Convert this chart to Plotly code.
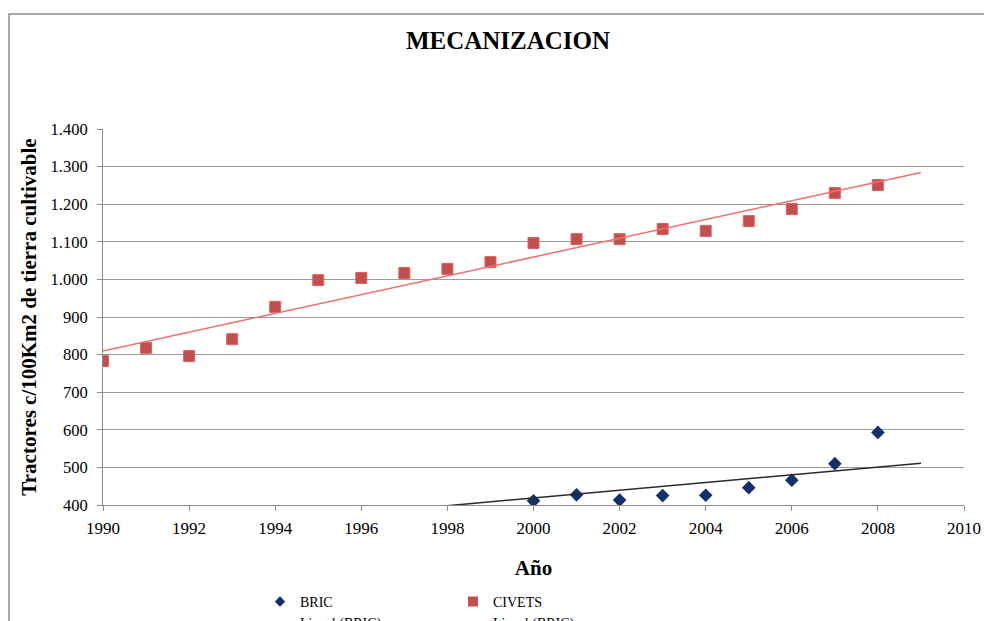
import numpy as np
import plotly.graph_objects as go

years = list(range(1990, 2009))
civets = [783, 818, 796, 841, 927, 998, 1004, 1017, 1028, 1046, 1097, 1107, 1107, 1134, 1129, 1155, 1187, 1230, 1251]
bric_years = list(range(2000, 2009))
bric = [411, 427, 413, 425, 426, 446, 466, 510, 593]
# Excel linear trendline for BRIC (fitted on full series, partly below axis)
bric_trend_years = [1990, 2009]
bric_trend_vals = [316, 511]
trend_years = [1990, 2009]
legend_labels = ["BRIC", "CIVETS", "Lineal (BRIC)", "Lineal (BRIC)"]

coef = np.polyfit(years, civets, 1)
civets_trend = np.polyval(coef, trend_years)

FONT = "Liberation Serif, Times New Roman, serif"
fig = go.Figure()

fig.add_trace(go.Scatter(x=years, y=civets, mode="markers", showlegend=False,
                         marker=dict(symbol="square", size=11, color="#C0504D",
                                     line=dict(color="#E06060", width=1))))
fig.add_trace(go.Scatter(x=bric_years, y=bric, mode="markers", showlegend=False,
                         marker=dict(symbol="diamond", size=10.5, color="#13306A",
                                     line=dict(color="#13306A", width=0))))
fig.add_trace(go.Scatter(x=trend_years, y=civets_trend, mode="lines", showlegend=False,
                         line=dict(color="#F07070", width=1.5)))
fig.add_trace(go.Scatter(x=bric_trend_years, y=bric_trend_vals, mode="lines", showlegend=False,
                         line=dict(color="#2a2a2a", width=1.5)))

# legend entries
fig.add_trace(go.Scatter(x=[None], y=[None], mode="markers", name=legend_labels[0], legend="legend",
                         marker=dict(symbol="diamond", size=8, color="#13306A")))
fig.add_trace(go.Scatter(x=[None], y=[None], mode="lines", name=legend_labels[2], legend="legend",
                         line=dict(color="#A8A8D0", width=2)))
fig.add_trace(go.Scatter(x=[None], y=[None], mode="markers", name=legend_labels[1], legend="legend2",
                         marker=dict(symbol="square", size=10, color="#C0504D")))
fig.add_trace(go.Scatter(x=[None], y=[None], mode="lines", name=legend_labels[3], legend="legend2",
                         line=dict(color="#555555", width=2)))

fig.update_layout(
    width=992, height=621,
    margin=dict(l=95, r=36, t=121, b=124, autoexpand=False),
    paper_bgcolor="white", plot_bgcolor="white",
    separators=",.",
    font=dict(family=FONT, size=17, color="black"),
    title=dict(text="<b>MECANIZACION</b>", x=500 / 992, xanchor="center", y=1 - 32 / 621, yanchor="middle",
               font=dict(family=FONT, size=25, color="black")),
    legend=dict(x=(252 - 95) / 861, y=-0.215, xanchor="left", yanchor="top", orientation="v",
                font=dict(family=FONT, size=14), bgcolor="rgba(0,0,0,0)", tracegroupgap=0),
    legend2=dict(x=(445 - 95) / 861, y=-0.215, xanchor="left", yanchor="top", orientation="v",
                 font=dict(family=FONT, size=14), bgcolor="rgba(0,0,0,0)", tracegroupgap=0),
    shapes=[dict(type="rect", xref="paper", yref="paper",
                 x0=(1 - 95) / 861, x1=1.2, y0=-0.5, y1=(497 - 6) / 376,
                 line=dict(color="#8c8c8c", width=1.5), layer="below")],
)

fig.update_xaxes(range=[1990, 2010], dtick=2, tick0=1990, showgrid=False,
                 showline=True, linecolor="#8c8c8c", linewidth=1,
                 ticks="outside", ticklen=5, tickcolor="#8c8c8c",
                 ticklabelstandoff=3,
                 tickfont=dict(family=FONT, size=17),
                 title=dict(text="<b>Año</b>", font=dict(family=FONT, size=21), standoff=22),
                 zeroline=False)
fig.update_yaxes(range=[400, 1400], dtick=100, tickformat=",d", showgrid=True,
                 gridcolor="#9a9a9a", gridwidth=1,
                 showline=True, linecolor="#8c8c8c", linewidth=1,
                 ticks="outside", ticklen=5, tickcolor="#8c8c8c",
                 ticklabelstandoff=6,
                 tickfont=dict(family=FONT, size=16.5),
                 title=dict(text="<b>Tractores c/100Km2 de tierra cultivable</b>",
                            font=dict(family=FONT, size=21), standoff=8),
                 zeroline=False)

fig.write_html("out.html")
